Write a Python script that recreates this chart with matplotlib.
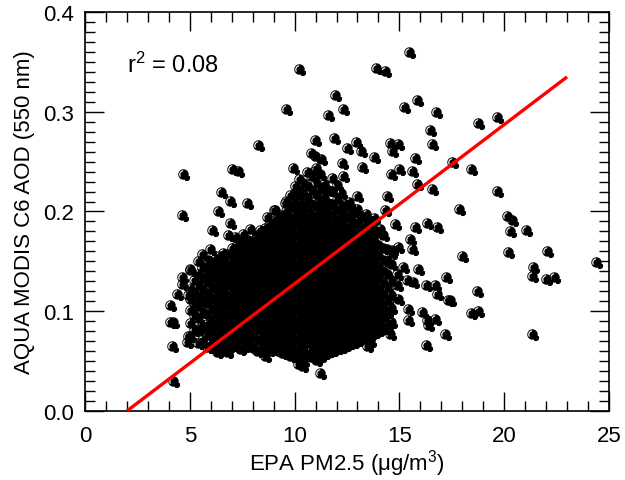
import numpy as np
import matplotlib
matplotlib.use("Agg")
import matplotlib.pyplot as plt
from matplotlib.path import Path

plt.rcParams['font.family'] = ['Liberation Sans', 'DejaVu Sans']
plt.rcParams['mathtext.fontset'] = 'custom'
plt.rcParams['mathtext.rm'] = 'Liberation Sans'
plt.rcParams['mathtext.it'] = 'Liberation Sans:italic'

# scattered points (EPA PM2.5, AOD)
outer_pts = [
    (15.46, 0.360), (10.20, 0.343), (13.88, 0.344), (14.31, 0.341), (11.93, 0.317),
    (12.32, 0.303), (9.58, 0.303), (11.61, 0.297), (15.85, 0.312), (15.23, 0.305),
    (16.73, 0.300), (18.73, 0.289), (19.64, 0.295), (16.46, 0.282), (16.57, 0.268),
    (8.27, 0.267), (10.97, 0.272), (11.88, 0.274), (12.93, 0.270), (12.48, 0.264),
    (13.15, 0.261), (14.55, 0.269), (14.92, 0.268), (14.63, 0.261), (13.79, 0.255),
    (10.77, 0.259), (10.97, 0.256), (11.24, 0.253), (12.24, 0.249), (15.74, 0.254),
    (13.20, 0.245), (14.99, 0.243), (15.58, 0.241), (17.49, 0.250), (18.40, 0.243),
    (10.97, 0.241), (12.32, 0.236), (14.58, 0.238), (4.69, 0.238), (7.00, 0.243),
    (7.30, 0.241), (9.91, 0.244),
    (19.64, 0.221), (17.84, 0.202), (20.12, 0.195), (20.35, 0.191), (20.27, 0.180),
    (21.02, 0.181), (20.20, 0.159), (22.02, 0.160), (18.01, 0.155), (24.38, 0.149),
    (21.39, 0.144), (21.34, 0.135), (21.98, 0.132), (22.39, 0.134), (17.20, 0.134),
    (18.68, 0.120), (17.41, 0.111), (18.40, 0.098), (18.77, 0.100), (21.31, 0.077),
    (17.18, 0.077), (15.90, 0.142), (16.25, 0.126), (16.70, 0.126), (16.81, 0.117),
    (15.34, 0.131), (15.66, 0.129), (14.87, 0.126), (15.42, 0.102), (16.06, 0.099),
    (15.42, 0.091), (16.30, 0.091), (16.38, 0.086), (16.70, 0.092), (14.55, 0.077),
    (15.74, 0.184), (16.78, 0.184), (16.30, 0.188), (14.79, 0.187), (14.39, 0.216),
    (14.31, 0.201), (15.82, 0.228), (16.54, 0.223), (15.50, 0.172), (15.58, 0.162),
    (14.95, 0.164), (15.19, 0.144), (14.87, 0.137), (12.96, 0.216), (10.50, 0.208),
    (14.07, 0.182), (10.58, 0.169), (14.63, 0.161), (14.95, 0.112), (17.33, 0.111),
    (16.27, 0.066), (13.60, 0.070), (13.44, 0.065), (11.61, 0.060), (11.21, 0.038),
    (10.34, 0.057), (10.34, 0.045),
    (4.61, 0.196), (6.47, 0.220), (6.92, 0.211), (7.71, 0.209), (6.36, 0.200),
    (6.92, 0.188), (6.04, 0.181), (9.54, 0.209), (10.02, 0.226), (9.06, 0.201),
    (8.67, 0.194), (9.14, 0.189), (9.86, 0.189), (6.84, 0.176), (7.16, 0.174),
    (7.55, 0.177), (7.87, 0.182), (8.35, 0.181), (8.83, 0.179), (8.43, 0.169),
    (5.96, 0.162), (5.57, 0.157), (5.88, 0.151), (5.01, 0.142), (4.61, 0.134),
    (4.61, 0.127), (6.44, 0.144), (4.21, 0.030), (4.13, 0.065), (4.05, 0.089),
    (4.21, 0.089), (4.05, 0.106), (4.37, 0.117), (4.93, 0.116), (4.85, 0.069),
    (4.93, 0.075), (6.28, 0.059), (6.76, 0.059), (7.16, 0.065), (8.59, 0.055),
    (9.54, 0.060), (10.18, 0.047), (10.10, 0.059),
]

# dense core, one column of AOD values per PM2.5 value
core_cols = [
    (5.0, [0.075, 0.088, 0.101, 0.112, 0.122, 0.141]),
    (5.4, [0.068, 0.082, 0.093, 0.105, 0.114, 0.126, 0.137, 0.150]),
    (5.8, [0.064, 0.076, 0.087, 0.097, 0.108, 0.118, 0.129, 0.139, 0.146]),
    (6.2, [0.062, 0.073, 0.084, 0.094, 0.104, 0.113, 0.123, 0.133, 0.143, 0.152]),
    (6.6, [0.061, 0.072, 0.083, 0.092, 0.101, 0.111, 0.121, 0.130, 0.140, 0.150, 0.158]),
    (7.0, [0.066, 0.077, 0.087, 0.096, 0.106, 0.116, 0.125, 0.135, 0.145, 0.154, 0.163]),
    (7.4, [0.062, 0.073, 0.083, 0.093, 0.102, 0.112, 0.121, 0.131, 0.141, 0.150, 0.160, 0.168]),
    (7.8, [0.068, 0.078, 0.088, 0.098, 0.107, 0.117, 0.127, 0.136, 0.146, 0.155, 0.164, 0.171]),
    (8.2, [0.060, 0.071, 0.082, 0.092, 0.101, 0.111, 0.120, 0.130, 0.139, 0.149, 0.158, 0.166, 0.176]),
    (8.6, [0.065, 0.076, 0.086, 0.096, 0.105, 0.115, 0.124, 0.134, 0.143, 0.153, 0.162, 0.171, 0.183]),
    (9.0, [0.062, 0.072, 0.082, 0.092, 0.102, 0.111, 0.121, 0.130, 0.140, 0.149, 0.158, 0.168, 0.178,
           0.190, 0.201]),
    (9.4, [0.058, 0.069, 0.079, 0.089, 0.098, 0.108, 0.117, 0.127, 0.136, 0.146, 0.155, 0.165, 0.174,
           0.185, 0.196]),
    (9.8, [0.055, 0.066, 0.076, 0.086, 0.096, 0.105, 0.115, 0.124, 0.134, 0.143, 0.153, 0.162, 0.172,
           0.181, 0.192, 0.205, 0.217]),
    (10.2, [0.052, 0.064, 0.074, 0.084, 0.093, 0.103, 0.112, 0.122, 0.131, 0.141, 0.150, 0.160, 0.169,
            0.179, 0.188, 0.198, 0.209, 0.221, 0.233]),
    (10.6, [0.056, 0.068, 0.078, 0.088, 0.097, 0.107, 0.116, 0.126, 0.135, 0.145, 0.154, 0.164, 0.173,
            0.183, 0.193, 0.203, 0.214, 0.226, 0.240]),
    (11.0, [0.051, 0.063, 0.073, 0.083, 0.093, 0.102, 0.112, 0.121, 0.131, 0.140, 0.150, 0.159, 0.169,
            0.178, 0.188, 0.197, 0.207, 0.218, 0.229, 0.244]),
    (11.4, [0.058, 0.069, 0.079, 0.089, 0.098, 0.108, 0.117, 0.127, 0.136, 0.146, 0.155, 0.165, 0.174,
            0.184, 0.194, 0.204, 0.215, 0.228]),
    (11.8, [0.061, 0.072, 0.082, 0.092, 0.101, 0.111, 0.120, 0.130, 0.139, 0.149, 0.158, 0.168, 0.177,
            0.187, 0.197, 0.208, 0.221, 0.234]),
    (12.2, [0.064, 0.075, 0.085, 0.095, 0.104, 0.114, 0.123, 0.133, 0.142, 0.152, 0.161, 0.171, 0.181,
            0.192, 0.204, 0.219]),
    (12.6, [0.068, 0.078, 0.088, 0.098, 0.107, 0.117, 0.126, 0.136, 0.145, 0.155, 0.164, 0.174, 0.185,
            0.197, 0.210]),
    (13.0, [0.071, 0.081, 0.091, 0.101, 0.110, 0.120, 0.129, 0.139, 0.148, 0.158, 0.168, 0.178, 0.190,
            0.202]),
    (13.4, [0.076, 0.086, 0.096, 0.105, 0.115, 0.124, 0.134, 0.143, 0.153, 0.163, 0.174, 0.186, 0.197]),
    (13.8, [0.079, 0.090, 0.100, 0.110, 0.119, 0.129, 0.138, 0.148, 0.158, 0.169, 0.181, 0.193]),
    (14.2, [0.083, 0.095, 0.106, 0.117, 0.128, 0.140, 0.151, 0.163, 0.176]),
    (14.6, [0.089, 0.103, 0.116, 0.131, 0.147, 0.158]),
]

# second, in-between set of core columns
core_cols_b = [
    (5.2, [0.081, 0.096, 0.108, 0.119, 0.131]),
    (5.6, [0.071, 0.085, 0.099, 0.110, 0.121, 0.133, 0.144]),
    (6.0, [0.068, 0.080, 0.091, 0.102, 0.113, 0.124, 0.135, 0.147]),
    (6.4, [0.066, 0.078, 0.089, 0.099, 0.108, 0.118, 0.128, 0.138, 0.147, 0.155]),
    (6.8, [0.064, 0.075, 0.086, 0.096, 0.106, 0.115, 0.126, 0.136, 0.146, 0.157]),
    (7.2, [0.068, 0.079, 0.089, 0.098, 0.108, 0.118, 0.127, 0.137, 0.147, 0.157, 0.165]),
    (7.6, [0.065, 0.076, 0.086, 0.097, 0.106, 0.116, 0.126, 0.135, 0.145, 0.155, 0.164, 0.173]),
    (8.0, [0.063, 0.074, 0.085, 0.095, 0.104, 0.114, 0.124, 0.133, 0.143, 0.153, 0.162, 0.170]),
    (8.4, [0.062, 0.073, 0.084, 0.094, 0.104, 0.113, 0.122, 0.132, 0.141, 0.151, 0.160, 0.169, 0.178]),
    (8.8, [0.061, 0.070, 0.080, 0.089, 0.099, 0.109, 0.118, 0.128, 0.137, 0.147, 0.156, 0.166, 0.175,
           0.186]),
    (9.2, [0.060, 0.067, 0.077, 0.087, 0.096, 0.106, 0.115, 0.125, 0.134, 0.144, 0.153, 0.163, 0.173,
           0.183, 0.194]),
    (9.6, [0.057, 0.064, 0.074, 0.083, 0.093, 0.103, 0.112, 0.122, 0.131, 0.141, 0.150, 0.160, 0.169,
           0.179, 0.189, 0.200, 0.211]),
    (10.0, [0.054, 0.061, 0.071, 0.081, 0.090, 0.100, 0.109, 0.119, 0.128, 0.138, 0.147, 0.157, 0.166,
            0.176, 0.186, 0.196, 0.207, 0.219]),
    (10.4, [0.050, 0.060, 0.070, 0.079, 0.089, 0.098, 0.108, 0.117, 0.127, 0.136, 0.146, 0.155, 0.165,
            0.174, 0.184, 0.194, 0.205, 0.217, 0.229]),
    (10.8, [0.054, 0.061, 0.071, 0.080, 0.090, 0.099, 0.109, 0.118, 0.128, 0.137, 0.147, 0.156, 0.166,
            0.176, 0.186, 0.196, 0.208, 0.222, 0.236]),
    (11.2, [0.055, 0.066, 0.076, 0.085, 0.095, 0.104, 0.114, 0.123, 0.133, 0.142, 0.152, 0.161, 0.171,
            0.181, 0.191, 0.201, 0.212, 0.224, 0.238]),
    (11.6, [0.060, 0.070, 0.080, 0.089, 0.099, 0.108, 0.118, 0.127, 0.137, 0.146, 0.156, 0.166, 0.176,
            0.186, 0.197, 0.209, 0.222]),
    (12.0, [0.063, 0.073, 0.083, 0.092, 0.102, 0.111, 0.121, 0.130, 0.140, 0.149, 0.159, 0.169, 0.179,
            0.190, 0.201, 0.213, 0.227]),
    (12.4, [0.066, 0.076, 0.086, 0.095, 0.105, 0.114, 0.124, 0.133, 0.143, 0.152, 0.162, 0.172, 0.183,
            0.195, 0.208]),
    (12.8, [0.069, 0.080, 0.090, 0.099, 0.109, 0.118, 0.128, 0.137, 0.147, 0.156, 0.166, 0.177, 0.188,
            0.200]),
    (13.2, [0.073, 0.083, 0.093, 0.103, 0.112, 0.122, 0.131, 0.141, 0.151, 0.161, 0.171, 0.182, 0.194]),
    (13.6, [0.077, 0.088, 0.098, 0.108, 0.117, 0.127, 0.136, 0.146, 0.156, 0.166, 0.178, 0.190]),
    (14.0, [0.081, 0.092, 0.103, 0.113, 0.123, 0.134, 0.144, 0.155, 0.166, 0.178]),
    (14.4, [0.086, 0.099, 0.111, 0.124, 0.137, 0.150, 0.162]),
]

# fitted line as drawn
fit_slope = 0.01595
fit_intercept = -0.0319
fit_x = [2.0, 23.0]
r2_text = "r$^{2}$ = 0.08"

cols = core_cols + core_cols_b
pm = [x for x, ys in cols for _ in ys] + [p[0] for p in outer_pts]
aod = [y for _, ys in cols for y in ys] + [p[1] for p in outer_pts]

# marker: black disc with a small tail at lower right and a thin highlight arc
ang = np.radians(np.arange(-15, 290, 5))
outline = [(np.cos(a), np.sin(a)) for a in ang]
outline += [(0.35, -1.25), (1.0, -1.25), (1.0, -1.0), (1.25, -1.0), (1.25, -0.35)]
hi = np.radians(np.arange(215, 90, -5))
hole = [(0.82 * np.cos(a), 0.82 * np.sin(a)) for a in hi]
hole += [(0.6 * np.cos(a), 0.6 * np.sin(a)) for a in hi[::-1]]
verts = outline + [outline[0]] + hole + [hole[0]]
codes = ([Path.MOVETO] + [Path.LINETO] * (len(outline) - 1) + [Path.CLOSEPOLY] +
         [Path.MOVETO] + [Path.LINETO] * (len(hole) - 1) + [Path.CLOSEPOLY])
dot = Path(verts, codes)

fig = plt.figure(figsize=(6.25, 4.81), dpi=100)
ax = fig.add_axes([0.136, 0.1435, 0.8384, 0.8295])

ax.plot(pm, aod, linestyle='none', marker=dot, markersize=9.4,
        markerfacecolor='black', markeredgewidth=0, color='black')

fx = np.array(fit_x)
ax.plot(fx, fit_intercept + fit_slope * fx, color='#ff0000', lw=2.4, solid_capstyle='butt', zorder=5)

ax.set_xlim(0, 25)
ax.set_ylim(0, 0.4)
ax.set_xticks([0, 5, 10, 15, 20, 25])
ax.set_yticks([0.0, 0.1, 0.2, 0.3, 0.4])
ax.set_xticks(np.arange(0, 25.1, 1), minor=True)
ax.set_yticks(np.arange(0, 0.401, 0.01), minor=True)
ax.yaxis.set_major_formatter(matplotlib.ticker.FormatStrFormatter('%.1f'))
ax.tick_params(which='both', direction='in', top=True, right=True, width=1.0, labelsize=16)
ax.tick_params(which='major', length=14)
ax.tick_params(which='minor', length=7)
ax.tick_params(axis='y', pad=8)
ax.tick_params(axis='x', pad=10)
for s in ax.spines.values():
    s.set_linewidth(1.2)

ax.set_xlabel("EPA PM2.5 (\u03bcg/m$^{3}$)", fontsize=16, labelpad=1)
ax.set_ylabel("AQUA MODIS C6 AOD (550 nm)", fontsize=16, labelpad=6)
ax.text(2.0, 0.348, r2_text, fontsize=17, va='center', ha='left')

fig.savefig("out.png", dpi=100)
